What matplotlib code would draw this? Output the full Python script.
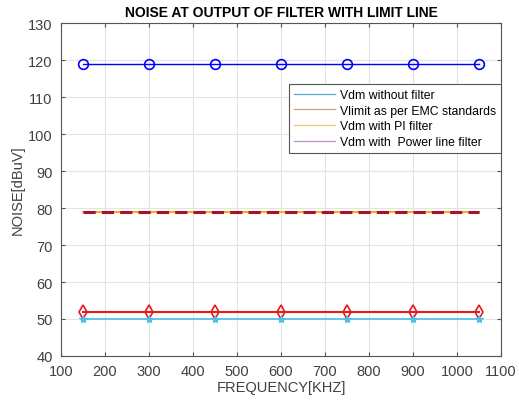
import matplotlib
matplotlib.use("Agg")
import matplotlib.pyplot as plt
from matplotlib.lines import Line2D

# frequency points (kHz)
freq = [150, 300, 450, 600, 750, 900, 1050]
vdm_no_filter = [119, 119, 119, 119, 119, 119, 119]
vlimit = [79, 79, 79, 79, 79, 79, 79]
vdm_pi = [52, 52, 52, 52, 52, 52, 52]
vdm_power = [50, 50, 50, 50, 50, 50, 50]

legend_labels = ["Vdm without filter", "Vlimit as per EMC standards",
                 "Vdm with PI filter", "Vdm with  Power line filter"]
legend_colors = ["#5ba7d0", "#c9a27e", "#e8cf72", "#b594c6"]

plt.rcParams['font.family'] = ['Liberation Sans', 'DejaVu Sans']

fig = plt.figure(figsize=(5.19, 4.02), dpi=100)
ax = fig.add_axes([0.1175, 0.112, 0.8478, 0.828])

ax.plot(freq, vdm_no_filter, color='#0000ff', lw=1.0, marker='o', ms=7,
        mfc='none', mew=1.2)
ax.plot(freq, vlimit, color='#edb120', lw=1.5)
ax.plot(freq, vlimit, color='#a2142f', lw=2.2, ls=(0, (4, 2)))
ax.plot(freq, vdm_pi, color='#e41a1c', lw=1.5, marker='d', ms=7,
        mfc='none', mew=1.2)
ax.plot(freq, vdm_power, color='#4dbeee', lw=1.2, marker='*', ms=6,
        mew=0.8)

ax.set_xlim(100, 1100)
ax.set_ylim(40, 130)
ax.set_xticks(range(100, 1101, 100))
ax.set_yticks(range(40, 131, 10))
ax.grid(True, color='#e3e3e3', lw=0.8)
ax.set_axisbelow(True)
ax.tick_params(direction='in', top=True, right=True, labelsize=10.5,
               labelcolor='#404040', color='#555555', length=3, width=0.8,
               pad=6)
for s in ax.spines.values():
    s.set_color('#555555')
    s.set_linewidth(0.8)

ax.set_xlabel("FREQUENCY[KHZ]", fontsize=10.5, color='#404040', labelpad=1)
ax.set_ylabel("NOISE[dBuV]", fontsize=10.5, color='#404040', labelpad=2)
ax.set_title("NOISE AT OUTPUT OF FILTER WITH LIMIT LINE", fontsize=10,
             fontweight='bold', pad=5)

handles = [Line2D([], [], color=c, lw=0.9) for c in legend_colors]
leg = ax.legend(handles, legend_labels, loc='upper right',
                bbox_to_anchor=(1.0, 0.817), fontsize=8.8, handlelength=3.4,
                fancybox=False, framealpha=1, edgecolor='#555555',
                borderpad=0.4, labelspacing=0.3, handletextpad=0.4,
                borderaxespad=0)
leg.get_frame().set_linewidth(0.8)

fig.savefig("out.png", dpi=100)
